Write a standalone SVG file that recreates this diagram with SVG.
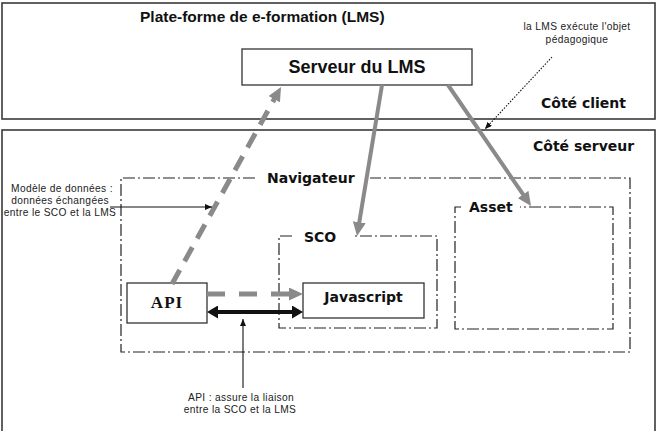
<svg xmlns="http://www.w3.org/2000/svg" width="661" height="431" viewBox="0 0 661 431">
<style>
.zone{fill:#fff;stroke:#3a3a3a;stroke-width:1.6}
.box{fill:#fff;stroke:#333;stroke-width:1.3}
.dd{fill:none;stroke:#222;stroke-width:1.2;stroke-dasharray:12 3 2 3}
.title{font-family:"Liberation Sans",Arial,sans-serif;font-weight:bold;font-size:15.5px;fill:#111}
.srv{font-family:"Liberation Sans",Arial,sans-serif;font-weight:bold;font-size:18px;fill:#111}
.lbl{font-family:"DejaVu Sans",Verdana,sans-serif;font-weight:bold;font-size:14px;fill:#111}
.note{font-family:"Liberation Sans",Arial,sans-serif;font-size:10.2px;fill:#222;letter-spacing:0.35px}
.api{font-family:"Liberation Serif","Times New Roman",serif;font-weight:bold;font-size:17px;fill:#111;letter-spacing:1px}
.g{fill:none;stroke:#8a8a8a;stroke-width:4}
.gd{fill:none;stroke:#8a8a8a;stroke-width:5}
.thin{fill:none;stroke:#111;stroke-width:1.1}
</style>
<defs>
<marker id="gh" markerUnits="userSpaceOnUse" markerWidth="15" markerHeight="13" refX="3" refY="6.5" orient="auto"><path d="M0,0 L14,6.5 L0,13 z" fill="#8a8a8a"/></marker>
<marker id="bh" markerUnits="userSpaceOnUse" markerWidth="12" markerHeight="13" refX="2" refY="6.5" orient="auto-start-reverse"><path d="M0,0 L11,6.5 L0,13 z" fill="#111"/></marker>
<marker id="th" markerUnits="userSpaceOnUse" markerWidth="8" markerHeight="6" refX="7" refY="3" orient="auto"><path d="M0,0 L7,3 L0,6 z" fill="#111"/></marker>
</defs>

<g id="cote-client">
<rect class="zone" x="2" y="3" width="653" height="116"/>
<text class="title" x="140" y="22">Plate-forme de e-formation (LMS)</text>
<text class="lbl" x="541" y="108">Côté client</text>
</g>

<g id="cote-serveur">
<rect class="zone" x="2" y="130" width="653" height="310"/>
<text class="lbl" x="533" y="151">Côté serveur</text>
</g>

<g id="serveur-lms">
<rect class="box" x="242" y="49" width="230" height="36"/>
<text class="srv" x="357" y="73" text-anchor="middle">Serveur du LMS</text>
</g>

<g id="navigateur">
<path class="dd" d="M255,178 H121 V352 H630 V178 H370"/>
<text class="lbl" x="267" y="183" font-size="15">Navigateur</text>
</g>

<g id="sco">
<path class="dd" d="M292,236 H279 V328 H437 V236 H352"/>
<text class="lbl" x="304" y="242">SCO</text>
</g>

<g id="asset">
<path class="dd" d="M461,207 H455 V329 H613 V207 H520"/>
<text class="lbl" x="469" y="212">Asset</text>
</g>

<g id="api">
<rect class="box" x="127" y="283" width="80" height="40"/>
<text class="api" x="167" y="308" text-anchor="middle">API</text>
</g>

<g id="javascript">
<rect class="box" x="303" y="283" width="121" height="35"/>
<text class="lbl" x="363.5" y="302" text-anchor="middle" font-size="14.5">Javascript</text>
</g>

<g id="annotations">
<text class="note" x="577" y="30" text-anchor="middle">la LMS exécute l'objet</text>
<text class="note" x="577" y="43" text-anchor="middle">pédagogique</text>
<text class="note" x="62" y="192" text-anchor="middle">Modèle de données :</text>
<text class="note" x="60" y="204" text-anchor="middle" letter-spacing="0.2">données échangées</text>
<text class="note" x="60" y="216" text-anchor="middle" letter-spacing="0.15">entre le SCO et la LMS</text>
<text class="note" x="241" y="401" text-anchor="middle">API : assure la liaison</text>
<text class="note" x="240" y="413" text-anchor="middle">entre la SCO et la LMS</text>
</g>

<g id="connectors">
<line class="gd" x1="172" y1="284" x2="275.7" y2="96.6" stroke-dasharray="16 10" marker-end="url(#gh)"/>
<line class="g" x1="382" y1="85" x2="358.8" y2="225.2" marker-end="url(#gh)"/>
<line class="g" x1="448" y1="85" x2="524.8" y2="196.9" marker-end="url(#gh)"/>
<line class="gd" x1="207" y1="294" x2="292" y2="294" stroke-dasharray="18 14" marker-end="url(#gh)"/>
<line x1="216" y1="312" x2="294" y2="312" stroke="#111" stroke-width="4" marker-start="url(#bh)" marker-end="url(#bh)"/>
<line class="thin" x1="243" y1="388" x2="243" y2="319" marker-end="url(#th)"/>
<line class="thin" x1="110" y1="207" x2="212" y2="207" marker-end="url(#th)"/>
<line class="thin" x1="552" y1="57" x2="485" y2="129" stroke-dasharray="1.5 1.5" marker-end="url(#th)"/>
</g>
</svg>
